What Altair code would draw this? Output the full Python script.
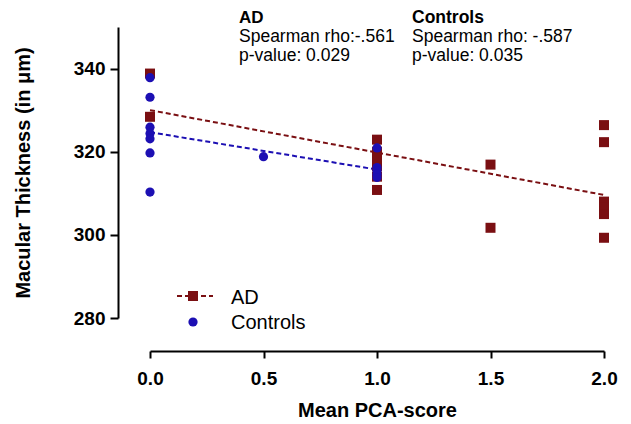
import altair as alt
import pandas as pd

# ---- data ----
ad_x = [0, 0, 1, 1, 1, 1, 1, 1, 1.5, 1.5, 2, 2, 2, 2, 2, 2]
ad_y = [338.8, 328.4, 322.9, 320.0, 318.5, 316.5, 314.0, 310.8,
        316.9, 301.7, 326.4, 322.3, 308.0, 306.5, 305.0, 299.3]

ctrl_x = [0, 0, 0, 0, 0, 0, 0, 0.5, 1, 1, 1, 1, 1]
ctrl_y = [337.8, 333.1, 325.9, 324.4, 323.1, 319.7, 310.3, 318.8,
          320.9, 316.2, 315.4, 314.6, 313.8]

ad_fit_x = [0, 2]
ad_fit_y = [330.0, 309.6]
ctrl_fit_x = [0, 1]
ctrl_fit_y = [324.7, 315.7]

x_ticks = [0, 0.5, 1, 1.5, 2]
y_ticks = [280, 300, 320, 340]

groups = ["AD", "Controls"]
stats_rho = ["Spearman rho:-.561", "Spearman rho: -.587"]
stats_p = ["p-value: 0.029", "p-value: 0.035"]

RED = "#7a0f12"
BLUE = "#1c0fb3"
FONT = "Liberation Sans"

ad_df = pd.DataFrame({"x": ad_x, "y": ad_y})
ctrl_df = pd.DataFrame({"x": ctrl_x, "y": ctrl_y})
ad_fit = pd.DataFrame({"x": ad_fit_x, "y": ad_fit_y})
ctrl_fit = pd.DataFrame({"x": ctrl_fit_x, "y": ctrl_fit_y})

xscale = alt.Scale(domain=[0, 2], nice=False, zero=False)
yscale = alt.Scale(domain=[280, 350], nice=False, zero=False)

xaxis = alt.Axis(values=x_ticks, format=".1f", title="Mean PCA-score",
                 offset=33, grid=False, domainColor="black", domainWidth=2,
                 tickColor="black", tickWidth=2, tickSize=7, labelFlush=False,
                 labelFont=FONT, labelFontSize=19, labelFontWeight="bold",
                 labelColor="black", labelPadding=11,
                 titleFont=FONT, titleFontSize=20, titleFontWeight="bold",
                 titleColor="black", titlePadding=12)
yaxis = alt.Axis(values=y_ticks, format="d", title="Macular Thickness (in μm)",
                 offset=32, grid=False, domainColor="black", domainWidth=2,
                 tickColor="black", tickWidth=2, tickSize=8, labelFlush=False,
                 labelFont=FONT, labelFontSize=19, labelFontWeight="bold",
                 labelColor="black", labelPadding=5,
                 titleFont=FONT, titleFontSize=20, titleFontWeight="bold",
                 titleColor="black", titlePadding=40)

X = alt.X("x:Q", scale=xscale, axis=xaxis)
Y = alt.Y("y:Q", scale=yscale, axis=yaxis)

ad_line = alt.Chart(ad_fit).mark_line(color=RED, strokeWidth=2, strokeDash=[5, 3]).encode(x=X, y=Y)
ctrl_line = alt.Chart(ctrl_fit).mark_line(color=BLUE, strokeWidth=2, strokeDash=[5, 3]).encode(x=X, y=Y)
ad_pts = alt.Chart(ad_df).mark_point(shape="square", filled=True, size=100,
                                     color=RED, opacity=1).encode(x=X, y=Y)
ctrl_pts = alt.Chart(ctrl_df).mark_point(shape="circle", filled=True, size=85,
                                         color=BLUE, opacity=1).encode(x=X, y=Y)

one = pd.DataFrame({"d": [0]})


def txt(s, px, py, size=17, bold=False):
    return alt.Chart(one).mark_text(
        text=s, font=FONT, fontSize=size, fontWeight="bold" if bold else "normal",
        align="left", baseline="alphabetic", color="black"
    ).encode(x=alt.value(px), y=alt.value(py))


annots = [
    txt(groups[0], 89, -4, 17, True),
    txt(stats_rho[0], 89, 15, 17.5),
    txt(stats_p[0], 89, 34, 17.5),
    txt(groups[1], 262, -4, 17.5, True),
    txt(stats_rho[1], 262, 15, 17.5),
    txt(stats_p[1], 262, 34, 17.5),
]

leg_line = alt.Chart(one).mark_rule(color=RED, strokeWidth=2, strokeDash=[5, 3]).encode(
    x=alt.value(27), x2=alt.value(63), y=alt.value(269))
leg_sq = alt.Chart(one).mark_point(shape="square", filled=True, size=100, color=RED, opacity=1).encode(
    x=alt.value(43), y=alt.value(269))
leg_ci = alt.Chart(one).mark_point(shape="circle", filled=True, size=85, color=BLUE, opacity=1).encode(
    x=alt.value(43), y=alt.value(295))
leg_t1 = txt(groups[0], 81, 277, 20)
leg_t2 = txt(groups[1], 81, 302, 20)

chart = alt.layer(
    ad_line, ctrl_line, ad_pts, ctrl_pts, *annots,
    leg_line, leg_sq, leg_ci, leg_t1, leg_t2
).properties(
    width=454, height=291,
    autosize=alt.AutoSizeParams(type="none"),
    padding={"left": 142, "top": 19, "right": 19, "bottom": 105},
    background="white",
).configure_view(stroke=None)

chart.save("out.html", embed_options={"renderer": "svg", "actions": False})
